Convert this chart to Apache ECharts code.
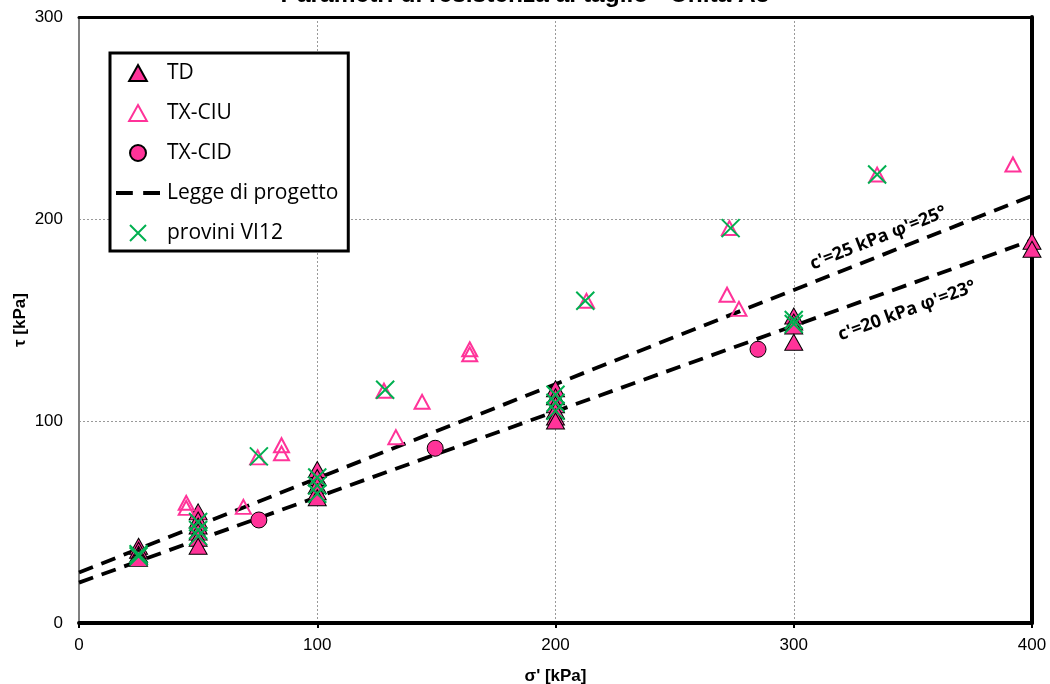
<!DOCTYPE html>
<html>
<head>
<meta charset="utf-8">
<script src="https://cdn.jsdelivr.net/npm/echarts@6/dist/echarts.min.js"></script>
<style>
html,body{margin:0;padding:0;background:#fff;}
#chart{width:1050px;height:684px;}
</style>
</head>
<body>
<div id="chart"></div>
<script>
// ---- data ----
const xTicks = [0, 100, 200, 300, 400];
const yTicks = [0, 100, 200, 300];
const tdData = [[25,38],[25,36],[25,34],[25,33],[25,32],
  [50,55],[50,51],[50,48],[50,45],[50,42],[50,38],
  [100,76],[100,72],[100,68],[100,65],[100,62],
  [200,116],[200,112],[200,108],[200,105],[200,102],[200,100],
  [300,152],[300,149],[300,147],[300,139],
  [400,189],[400,185]];
const ciuData = [[45,59.5],[45,57],[69,57.5],[75,82],[85,88],[85,84],[128,115],[133,92],
  [144,109.5],[164,135.5],[164,133],[213,159.5],[272,162.5],[277,155.5],[273,195.5],[335,222],[392,227]];
const cidData = [[75.5,51],[149.5,86.5],[285,135.5]];
const vi12Data = [[25,34],[25,33],[50,50],[50,46],[50,43],[75.5,82.5],[100,72],[100,68],[100,64],
  [128.5,115.5],[200,113],[200,109],[200,105],[212.5,159.5],[273.5,195.5],[300,150],[300,148],[335,222]];
const law1 = [[0,25],[400,211.5]];
const law2 = [[0,20],[400,189.5]];
const law1Label = "c'=25 kPa φ'=25°";
const law2Label = "c'=20 kPa φ'=23°";
const titleText = "Parametri di resistenza al taglio - Unità A3";
const seriesNames = ["TD","TX-CIU","TX-CID","Legge di progetto","provini VI12"];

const PINK = '#FF3399';
const GREEN = '#00B050';
const tickFont = 'Liberation Sans, Arial, sans-serif';
const legFont = 'Open Sans, sans-serif';

const chart = echarts.init(document.getElementById('chart'), null, {renderer:'canvas'});
const xMark = 'path://M0,0L10,10M10,0L0,10';
const triPath = 'path://M5,0L10,9L0,9Z';
const dashIcon = 'path://M0,0L13,0L13,3.2L0,3.2Z M21,0L34,0L34,3.2L21,3.2Z';

const option = {
  animation: false,
  backgroundColor: '#fff',
  grid: {left: 79, right: 18, top: 17, bottom: 61, containLabel: false, outerBoundsMode: 'none'},
  graphic: [{
    type: 'text', left: 'center', top: -17, z: 100,
    style: {text: titleText, font: 'bold 24.5px ' + tickFont, fill: '#000'}
  }],
  legend: {
    orient: 'vertical', left: 110, top: 53,
    data: [
      {name: seriesNames[0], icon: triPath},
      {name: seriesNames[1], icon: triPath},
      {name: seriesNames[2], icon: 'circle'},
      {name: seriesNames[3], icon: dashIcon, itemStyle: {color: '#000', borderWidth: 0}},
      {name: seriesNames[4], icon: xMark}
    ],
    symbolKeepAspect: true,
    backgroundColor: '#fff',
    borderColor: '#000', borderWidth: 3,
    padding: [9, 10, 7, 6],
    itemWidth: 44, itemHeight: 16, itemGap: 18,
    textStyle: {fontFamily: legFont, fontSize: 21, color: '#000', lineHeight: 22, padding:[0,0,0,2]}
  },
  xAxis: [{
    type: 'value', min: 0, max: 400, interval: 100,
    name: "σ' [kPa]", nameLocation: 'middle', nameGap: 45, nameMoveOverlap: false,
    nameTextStyle: {fontFamily: tickFont, fontWeight: 'bold', fontSize: 17, color: '#000'},
    axisLine: {show: true, onZero: false, lineStyle: {color: '#000', width: 4}},
    axisTick: {show: true, length: 5, lineStyle: {color: '#000', width: 2}},
    axisLabel: {fontFamily: tickFont, fontSize: 17, color: '#000', margin: 14,
      formatter: v => xTicks.includes(v) ? String(v) : ''},
    splitLine: {show: true, lineStyle: {color: '#999', type: [2,2], width: 1}}
  }, {
    type: 'value', min: 0, max: 400, position: 'top',
    axisLine: {show: true, onZero: false, lineStyle: {color: '#000', width: 3}},
    axisTick: {show: false}, axisLabel: {show: false}, splitLine: {show: false}
  }],
  yAxis: [{
    type: 'value', min: 0, max: 300, interval: 100,
    name: 'τ [kPa]', nameLocation: 'middle', nameGap: 50, nameRotate: 90, nameMoveOverlap: false,
    nameTextStyle: {fontFamily: tickFont, fontWeight: 'bold', fontSize: 17, color: '#000'},
    axisLine: {show: true, onZero: false, lineStyle: {color: '#808080', width: 2}},
    axisTick: {show: false},
    axisLabel: {fontFamily: tickFont, fontSize: 17, color: '#000', margin: 16, padding: [4,0,0,0],
      formatter: v => yTicks.includes(v) ? String(v) : ''},
    splitLine: {show: true, lineStyle: {color: '#999', type: [2,2], width: 1}}
  }, {
    type: 'value', min: 0, max: 300, position: 'right',
    axisLine: {show: true, onZero: false, lineStyle: {color: '#000', width: 4}},
    axisTick: {show: false}, axisLabel: {show: false}, splitLine: {show: false}
  }],
  series: [
    {
      name: seriesNames[3], type: 'line', data: law1, symbol: 'none', z: 2,
      lineStyle: {color: '#000', width: 3.8, type: [15, 9]},
      itemStyle: {color: '#000'},
      markPoint: {
        symbol: 'circle', symbolSize: 0,
        data: [{coord: [335.5, 190.5], value: 0}],
        label: {show: true, position: 'inside', formatter: law1Label, rotate: 21.6,
          fontFamily: legFont, fontWeight: 'bold', fontSize: 18, color: '#000'}
      }
    },
    {
      name: seriesNames[3], type: 'line', data: law2, symbol: 'none', z: 2,
      lineStyle: {color: '#000', width: 3.8, type: [15, 9]},
      itemStyle: {color: '#000'},
      markPoint: {
        symbol: 'circle', symbolSize: 0,
        data: [{coord: [347.5, 154.5], value: 0}],
        label: {show: true, position: 'inside', formatter: law2Label, rotate: 20,
          fontFamily: legFont, fontWeight: 'bold', fontSize: 18, color: '#000'}
      }
    },
    {
      name: seriesNames[0], type: 'scatter', data: tdData, symbol: 'triangle', symbolSize: [18, 16], z: 3,
      itemStyle: {color: PINK, borderColor: '#000', borderWidth: 1, opacity: 1}
    },
    {
      name: seriesNames[1], type: 'scatter', data: ciuData, symbol: 'triangle', symbolSize: [15, 14], z: 3,
      itemStyle: {color: 'rgba(255,255,255,0)', borderColor: PINK, borderWidth: 2, opacity: 1}
    },
    {
      name: seriesNames[2], type: 'scatter', data: cidData, symbol: 'circle', symbolSize: 16, z: 3,
      itemStyle: {color: PINK, borderColor: '#000', borderWidth: 1, opacity: 1}
    },
    {
      name: seriesNames[4], type: 'scatter', data: vi12Data, symbol: xMark, symbolSize: 18, z: 4,
      itemStyle: {color: 'rgba(0,0,0,0)', borderColor: GREEN, borderWidth: 2, opacity: 1}
    }
  ]
};
chart.setOption(option);
</script>
</body>
</html>
